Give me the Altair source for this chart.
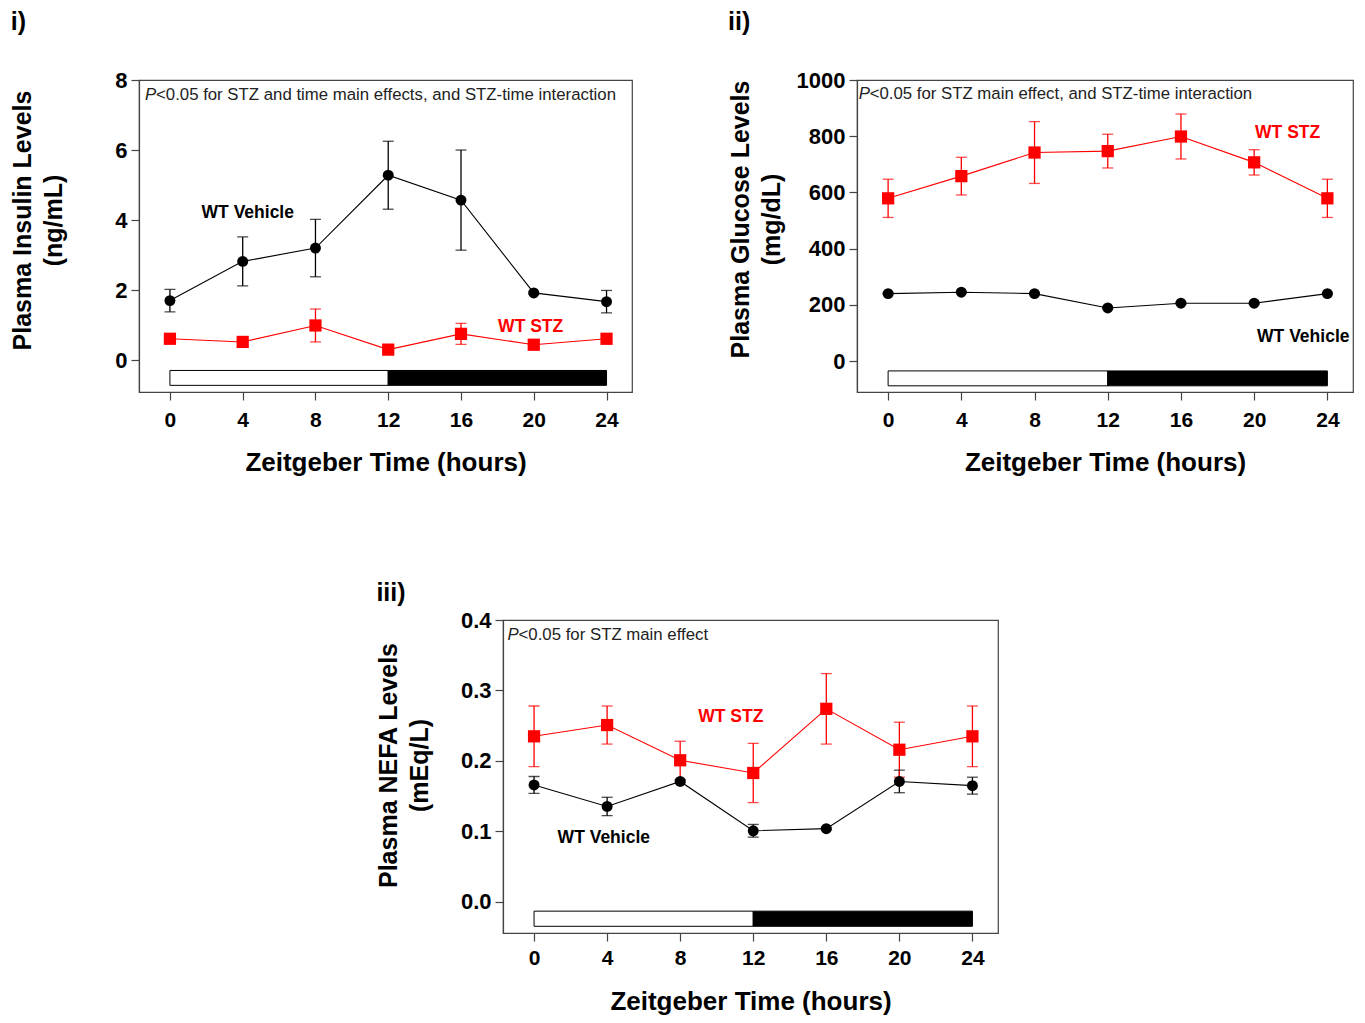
import altair as alt
import pandas as pd

# ---------------- data ----------------
TIME = [0, 4, 8, 12, 16, 20, 24]
GROUPS = ["WT Vehicle", "WT STZ"]

INS_VEH = [1.70, 2.82, 3.20, 5.28, 4.57, 1.92, 1.67]
INS_VEH_SE = [0.32, 0.70, 0.82, 0.97, 1.43, 0.03, 0.32]
INS_STZ = [0.61, 0.52, 0.99, 0.30, 0.75, 0.44, 0.61]
INS_STZ_SE = [0.10, 0.10, 0.47, 0.10, 0.30, 0.10, 0.10]

GLU_VEH = [240, 245, 240, 189, 206, 206, 240]
GLU_VEH_SE = [3, 3, 3, 3, 3, 3, 3]
GLU_STZ = [579, 658, 742, 747, 799, 707, 579]
GLU_STZ_SE = [68, 67, 110, 60, 80, 45, 68]

NEFA_VEH = [0.166, 0.1355, 0.171, 0.101, 0.104, 0.171, 0.165]
NEFA_VEH_SE = [0.012, 0.013, 0.0015, 0.009, 0.0015, 0.016, 0.012]
NEFA_STZ = [0.235, 0.251, 0.201, 0.183, 0.274, 0.216, 0.235]
NEFA_STZ_SE = [0.043, 0.027, 0.027, 0.042, 0.050, 0.039, 0.043]

LD_PHASE = ["light", "dark"]
LD_START = [0, 12]
LD_END = [12, 24]

INS_TICKS = [0, 2, 4, 6, 8]
GLU_TICKS = [0, 200, 400, 600, 800, 1000]
NEFA_TICKS = [0.0, 0.1, 0.2, 0.3, 0.4]

NOTE_I = "<0.05 for STZ and time main effects, and STZ-time interaction"
NOTE_II = "<0.05 for STZ main effect, and STZ-time interaction"
NOTE_III = "<0.05 for STZ main effect"

FONT = "Liberation Sans"
X_DOMAIN = [-1.7, 25.4]
RED = "#ff0000"


def build_df(veh, veh_se, stz, stz_se):
    rows = []
    for g, vals, ses in ((GROUPS[0], veh, veh_se), (GROUPS[1], stz, stz_se)):
        for t, v, s in zip(TIME, vals, ses):
            rows.append({"t": t, "v": v, "lo": v - s, "hi": v + s, "g": g})
    return pd.DataFrame(rows)


def panel(label, title_offset, veh, veh_se, stz, stz_se, ydomain, yticks, yfmt,
          ytitle, title_y, title_pad, note, note_xy, bar_y, veh_xy, stz_xy,
          width, height, x_label_pad=9, x_title_pad=19):
    df = build_df(veh, veh_se, stz, stz_se)
    xs = alt.Scale(domain=X_DOMAIN, nice=False, zero=False)
    ys = alt.Scale(domain=ydomain, nice=False, zero=False)
    xaxis = alt.Axis(values=TIME, title="Zeitgeber Time (hours)",
                     labelPadding=x_label_pad, titlePadding=x_title_pad)
    yaxis = alt.Axis(values=yticks, format=yfmt, title=ytitle,
                     titleY=title_y, titlePadding=title_pad)

    def X(f):
        return alt.X(f, scale=xs, axis=xaxis)

    def Y(f):
        return alt.Y(f, scale=ys, axis=yaxis)

    col = alt.Color("g:N", scale=alt.Scale(domain=GROUPS, range=["#000000", RED]),
                    legend=None)
    base = alt.Chart(df)

    line = base.mark_line(strokeWidth=1.1).encode(x=X("t:Q"), y=Y("v:Q"), color=col)
    err = base.mark_rule(strokeWidth=1.3).encode(x=X("t:Q"), y=Y("lo:Q"), y2="hi:Q", color=col)
    cap_lo = base.mark_tick(orient="horizontal", size=11, thickness=1.3).encode(
        x=X("t:Q"), y=Y("lo:Q"), color=col)
    cap_hi = base.mark_tick(orient="horizontal", size=11, thickness=1.3).encode(
        x=X("t:Q"), y=Y("hi:Q"), color=col)
    pts_veh = base.transform_filter(alt.datum.g == GROUPS[0]).mark_circle(
        size=120, color="#000000", opacity=1).encode(x=X("t:Q"), y=Y("v:Q"))
    pts_stz = base.transform_filter(alt.datum.g == GROUPS[1]).mark_square(
        size=150, color=RED, opacity=1).encode(x=X("t:Q"), y=Y("v:Q"))

    ld = pd.DataFrame({"phase": LD_PHASE, "s": LD_START, "e": LD_END,
                       "y0": [bar_y[0]] * 2, "y1": [bar_y[1]] * 2})
    bar = alt.Chart(ld).mark_rect(stroke="#000000", strokeWidth=1).encode(
        x=X("s:Q"), x2="e:Q", y=Y("y0:Q"), y2="y1:Q",
        fill=alt.Fill("phase:N", scale=alt.Scale(domain=LD_PHASE, range=["white", "black"]),
                      legend=None))

    ndf = pd.DataFrame({"x": [note_xy[0]], "y": [note_xy[1]], "p": ["P"], "txt": [note]})
    note_p = alt.Chart(ndf).mark_text(align="left", baseline="middle", fontSize=16.8,
                                      fontStyle="italic", color="#222222").encode(
        x=X("x:Q"), y=Y("y:Q"), text="p:N")
    note_rest = alt.Chart(ndf).mark_text(align="left", baseline="middle", fontSize=16.8,
                                         dx=11, color="#222222").encode(
        x=X("x:Q"), y=Y("y:Q"), text="txt:N")

    ldf = pd.DataFrame({"x": [veh_xy[0], stz_xy[0]], "y": [veh_xy[1], stz_xy[1]],
                        "g": GROUPS})
    labels = alt.Chart(ldf).mark_text(align="left", baseline="middle", fontSize=17.5,
                                      fontWeight="bold").encode(
        x=X("x:Q"), y=Y("y:Q"), text="g:N", color=col)

    return alt.layer(bar, line, err, cap_lo, cap_hi, pts_veh, pts_stz,
                     note_p, note_rest, labels).properties(
        width=width, height=height,
        title=alt.Title(label, anchor="start", frame="bounds", fontSize=25,
                        fontWeight="bold", offset=title_offset, font=FONT))


p1 = panel("i)", 34, INS_VEH, INS_VEH_SE, INS_STZ, INS_STZ_SE, [-0.91, 8.0], INS_TICKS, "d",
           ["Plasma Insulin Levels", "(ng/mL)"], 140, 48, NOTE_I, (-1.37, 7.57),
           (-0.72, -0.295), (1.74, 4.2), (18.04, 0.95), 493, 312)
p2 = panel("ii)", 34, GLU_VEH, GLU_VEH_SE, GLU_STZ, GLU_STZ_SE, [-110, 1000], GLU_TICKS, "d",
           ["Plasma Glucose Levels", "(mg/dL)"], 139, 12, NOTE_II, (-1.61, 950),
           (-88, -35), (20.16, 86), (20.05, 812), 496, 312)
p3 = panel("iii)", 3, NEFA_VEH, NEFA_VEH_SE, NEFA_STZ, NEFA_STZ_SE, [-0.044, 0.4], NEFA_TICKS, ".1f",
           ["Plasma NEFA Levels", "(mEq/L)"], 145, 28, NOTE_III, (-1.45, 0.379),
           (-0.0345, -0.013), (1.29, 0.0905), (8.99, 0.262), 495, 313,
           x_label_pad=6, x_title_pad=20)

# invisible spacer that pushes panel iii to its place in the bottom row
spacer = alt.Chart(pd.DataFrame({"a": [0]})).mark_point(opacity=0, size=0).encode(
    x=alt.X("a:Q", axis=None), y=alt.Y("a:Q", axis=None)
).properties(width=236, height=1, view=alt.ViewBackground(strokeOpacity=0))

chart = alt.vconcat(
    alt.hconcat(p1, p2, spacing=94),
    alt.hconcat(spacer, p3, spacing=0),
    spacing=104,
).properties(
    padding={"left": 10, "top": 9, "right": 5, "bottom": 5}
).configure(
    font=FONT
).configure_axis(
    grid=False,
    labelFont=FONT, labelFontSize=21, labelFontWeight="bold", labelColor="#000000",
    titleFont=FONT, titleFontSize=25, titleFontWeight="bold", titleColor="#000000",
    titleLineHeight=31,
    domainColor="#444444", tickColor="#444444", tickSize=8,
    domainWidth=1.2, tickWidth=1.2,
).configure_axisX(
    titleFontSize=26,
).configure_axisY(
    labelPadding=4, labelFontSize=22,
).configure_view(
    stroke="#444444", strokeWidth=1.2
)

chart.save("out.html", embed_options={"renderer": "svg", "actions": False})
